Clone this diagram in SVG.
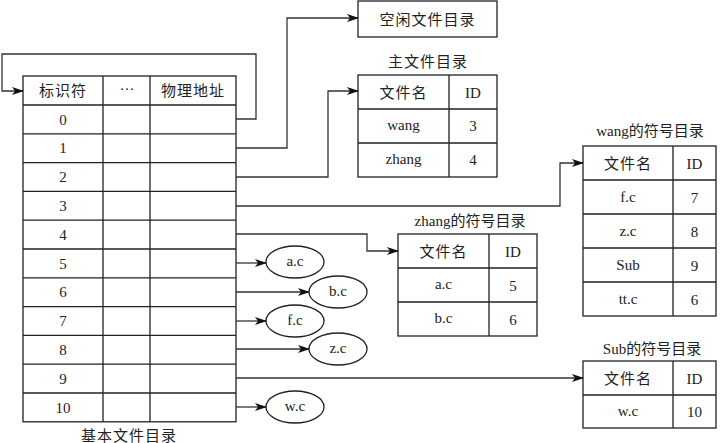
<svg xmlns="http://www.w3.org/2000/svg" width="721" height="443" viewBox="0 0 721 443">
<defs>
<marker id="arr" markerWidth="12" markerHeight="8" refX="11" refY="4" orient="auto" markerUnits="userSpaceOnUse">
<path d="M0,0 L12,4 L0,8 L3,4 Z" fill="#111"/>
</marker>
</defs>
<style>
.b{fill:#fff;stroke:#222;stroke-width:1.3}
.l{fill:none;stroke:#222;stroke-width:1.3}
.c{fill:none;stroke:#333;stroke-width:1.3;marker-end:url(#arr)}
text{font-family:"Liberation Serif","Noto Sans CJK SC",serif;font-size:15px;fill:#222;text-anchor:middle}
.cj{letter-spacing:1px}
</style>
<rect width="721" height="443" fill="#fff"/>

<g id="basic-dir">
<rect class="b" x="23" y="76" width="213" height="345.8"/>
<path class="l" d="M103,76V421.8M150,76V421.8M23,105H236M23,133.8H236M23,162.6H236M23,191.4H236M23,220.2H236M23,249H236M23,277.8H236M23,306.6H236M23,335.4H236M23,364.2H236M23,393H236"/>
<text x="63" y="96" class="cj">标识符</text>
<text x="127" y="94">···</text>
<text x="193" y="96" class="cj">物理地址</text>
<text x="63" y="124.5">0</text>
<text x="63" y="153.3">1</text>
<text x="63" y="182.1">2</text>
<text x="63" y="210.9">3</text>
<text x="63" y="239.7">4</text>
<text x="63" y="268.5">5</text>
<text x="63" y="297.3">6</text>
<text x="63" y="326.1">7</text>
<text x="63" y="354.9">8</text>
<text x="63" y="383.7">9</text>
<text x="63" y="412.5">10</text>
<text x="129" y="441" class="cj">基本文件目录</text>
</g>

<g id="free-dir">
<rect class="b" x="358" y="1" width="139" height="36"/>
<text x="427.5" y="24.5" class="cj">空闲文件目录</text>
</g>

<g id="master-dir">
<text x="428" y="67" class="cj">主文件目录</text>
<rect class="b" x="358" y="75" width="139" height="102"/>
<path class="l" d="M449,75V177M358,109H497M358,143H497"/>
<text x="403.5" y="97.5" class="cj">文件名</text>
<text x="473" y="97.5">ID</text>
<text x="403.5" y="130">wang</text>
<text x="473" y="131">3</text>
<text x="403.5" y="164">zhang</text>
<text x="473" y="165">4</text>
</g>

<g id="wang-dir">
<text x="650" y="136">wang的符号目录</text>
<rect class="b" x="583" y="146" width="133" height="170"/>
<path class="l" d="M673,146V316M583,180H716M583,214H716M583,248H716M583,282H716"/>
<text x="628" y="168.5" class="cj">文件名</text>
<text x="694.5" y="168.5">ID</text>
<text x="628" y="202">f.c</text>
<text x="694.5" y="202.5">7</text>
<text x="628" y="236">z.c</text>
<text x="694.5" y="236.5">8</text>
<text x="628" y="270">Sub</text>
<text x="694.5" y="270.5">9</text>
<text x="628" y="304">tt.c</text>
<text x="694.5" y="304.5">6</text>
</g>

<g id="zhang-dir">
<text x="470" y="226">zhang的符号目录</text>
<rect class="b" x="398" y="234" width="139" height="102"/>
<path class="l" d="M489,234V336M398,268H537M398,302H537"/>
<text x="443.5" y="256.5" class="cj">文件名</text>
<text x="513" y="256.5">ID</text>
<text x="443.5" y="289">a.c</text>
<text x="513" y="290.5">5</text>
<text x="443.5" y="323">b.c</text>
<text x="513" y="324.5">6</text>
</g>

<g id="sub-dir">
<text x="652" y="354">Sub的符号目录</text>
<rect class="b" x="583" y="361" width="133" height="67"/>
<path class="l" d="M673,361V428M583,395H716"/>
<text x="628" y="383.5" class="cj">文件名</text>
<text x="694.5" y="383.5">ID</text>
<text x="628" y="416">w.c</text>
<text x="694.5" y="416.5">10</text>
</g>

<g id="file-ac"><ellipse class="b" cx="295" cy="262" rx="29" ry="16"/><text x="295" y="266">a.c</text></g>
<g id="file-bc"><ellipse class="b" cx="338" cy="292" rx="29" ry="16"/><text x="338" y="296">b.c</text></g>
<g id="file-fc"><ellipse class="b" cx="295" cy="321" rx="29" ry="16"/><text x="295" y="325">f.c</text></g>
<g id="file-zc"><ellipse class="b" cx="338" cy="349" rx="29" ry="16"/><text x="338" y="353">z.c</text></g>
<g id="file-wc"><ellipse class="b" cx="295" cy="407" rx="29" ry="16"/><text x="295" y="411">w.c</text></g>

<g id="connectors">
<path class="c" d="M236,119H256V54H2V91H23"/>
<path class="c" d="M236,148H287V18H358"/>
<path class="c" d="M236,177H328V91H358"/>
<path class="c" d="M236,206H560V163H583"/>
<path class="c" d="M236,234H367V251H398"/>
<path class="c" d="M236,263H266"/>
<path class="c" d="M236,292H309"/>
<path class="c" d="M236,321H266"/>
<path class="c" d="M236,349H309"/>
<path class="c" d="M236,378H583"/>
<path class="c" d="M236,407H266"/>
</g>
</svg>
